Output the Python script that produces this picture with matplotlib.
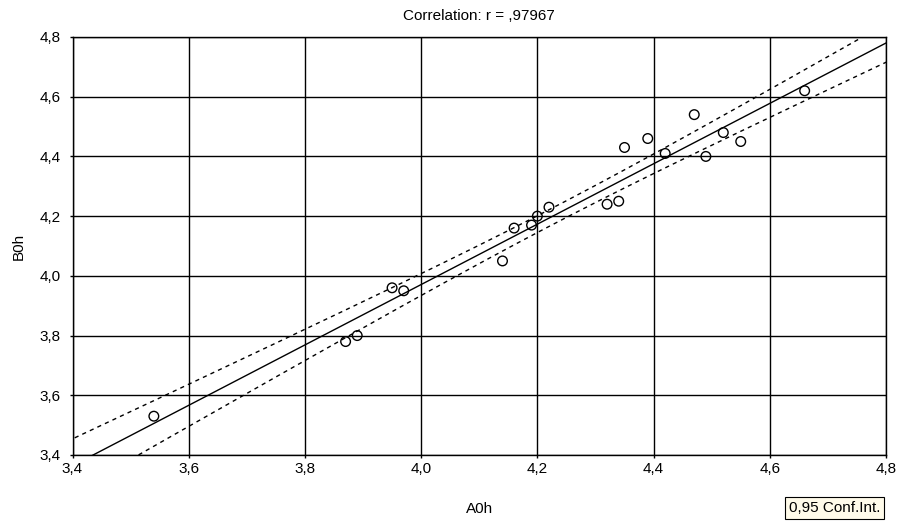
import numpy as np
import matplotlib.pyplot as plt
from matplotlib.ticker import FuncFormatter

plt.rcParams['font.family'] = ['Liberation Sans', 'DejaVu Sans']

# data
a0h = [3.54, 3.87, 3.89, 3.95, 3.97, 4.14, 4.16, 4.19, 4.20, 4.22,
       4.32, 4.34, 4.35, 4.39, 4.42, 4.47, 4.49, 4.52, 4.55, 4.66]
b0h = [3.53, 3.78, 3.80, 3.96, 3.95, 4.05, 4.16, 4.17, 4.20, 4.23,
       4.24, 4.25, 4.43, 4.46, 4.41, 4.54, 4.40, 4.48, 4.45, 4.62]
ticks = [3.4, 3.6, 3.8, 4.0, 4.2, 4.4, 4.6, 4.8]

x = np.array(a0h)
y = np.array(b0h)
n = len(x)

# linear fit + 95% confidence band of the mean
slope, icept = np.polyfit(x, y, 1)
xs = np.linspace(3.3, 4.9, 200)
yhat = icept + slope * xs
resid = y - (icept + slope * x)
s = np.sqrt(np.sum(resid ** 2) / (n - 2))
t = 2.101  # t(0.975, 18)
se = s * np.sqrt(1 / n + (xs - x.mean()) ** 2 / np.sum((x - x.mean()) ** 2))

fig = plt.figure(figsize=(9.01, 5.24), dpi=100)
ax = fig.add_axes([72.5 / 901, 69 / 524, 813.5 / 901, 418 / 524])

ax.plot(xs, yhat, color='black', lw=1.0)
ax.plot(xs, yhat + t * se, color='black', lw=1.0, linestyle=(0, (3, 3)))
ax.plot(xs, yhat - t * se, color='black', lw=1.0, linestyle=(0, (3, 3)))
ax.scatter(x, y, s=48, facecolors='none', edgecolors='black', linewidths=1.0, zorder=3)

ax.set_xlim(3.4, 4.8)
ax.set_ylim(3.4, 4.8)
ax.set_xticks(ticks)
ax.set_yticks(ticks)
comma = FuncFormatter(lambda v, p: f"{v:.1f}".replace('.', ','))
ax.xaxis.set_major_formatter(comma)
ax.yaxis.set_major_formatter(comma)
ax.tick_params(length=2, width=1, labelsize=11, colors='black')
ax.tick_params(axis='x', pad=3)
ax.tick_params(axis='y', pad=6.5)
ax.grid(True, color='black', lw=1.0)
ax.set_axisbelow(True)
for sp in ax.spines.values():
    sp.set_linewidth(1.0)

ax.set_title('Correlation: r = ,97967', fontsize=11, pad=12.5)
ax.set_xlabel('A0h', fontsize=11, labelpad=18.5)
ax.set_ylabel('B0h', fontsize=11, labelpad=10)

fig.text(880 / 901, 12 / 524, '0,95 Conf.Int.', fontsize=11, ha='right', va='baseline',
         bbox=dict(boxstyle='square,pad=0.25', facecolor='#fffbea', edgecolor='black', lw=0.8))

fig.savefig('out.png', dpi=100)
